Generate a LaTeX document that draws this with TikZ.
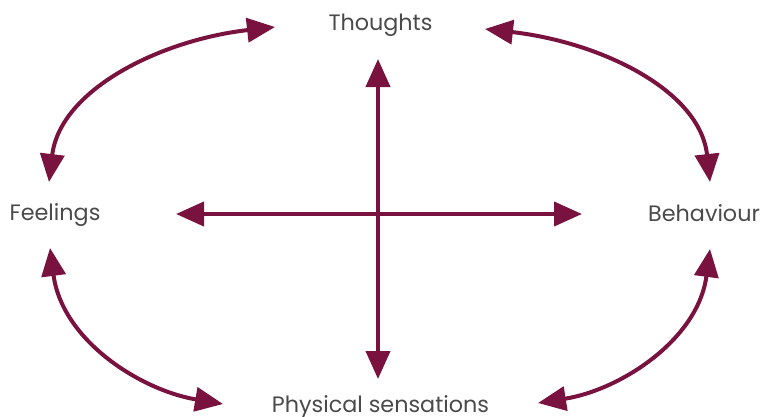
\documentclass[tikz,border=0pt]{standalone}
\usepackage{fontspec}
\setmainfont{Poppins}
\usepackage{tikz}
\usetikzlibrary{arrows.meta,calc}
\definecolor{plum}{HTML}{7A1240}
\definecolor{inkgrey}{HTML}{4A4A4A}

\begin{document}
\begin{tikzpicture}[x=1pt,y=1pt,label/.style={text=inkgrey,font=\fontsize{22.3}{26}\selectfont,inner sep=0pt,anchor=base},link/.style={{Triangle[length=28pt,width=24pt]}-{Triangle[length=28pt,width=24pt]},line width=4pt,draw=plum}]
\useasboundingbox (0,0) rectangle (762,416);
\node[label] (thoughts) at (380.5,385.5) {Thoughts};
\node[label] (feelings) at (55,195.5) {Feelings};
\node[label] (behaviour) at (704,195) {Behaviour};
\node[label] (physical) at (380.5,3.5) {Physical sensations};
% cross
\draw[link] ($(thoughts.base)+(-2.5,-28.5)$)--($(physical.base)+(-2.5,33.5)$);
\draw[link] ($(feelings.base)+(121,6.5)$)--($(behaviour.base)+(-122,7)$);
% curved links round the outside
\draw[link] ($(thoughts.base)+(-105.5,3.5)$) .. controls +(-115,-13) and +(11,92) .. ($(feelings.base)+(-6,38.5)$);
\draw[link] ($(thoughts.base)+(104.5,1.5)$) .. controls +(115,-13) and +(-10,92) .. ($(behaviour.base)+(6,39)$);
\draw[link] ($(feelings.base)+(-5,-27.5)$) .. controls +(12,-92) and +(-83,14) .. ($(physical.base)+(-157.5,8.5)$);
\draw[link] ($(behaviour.base)+(6,-28)$) .. controls +(-12,-91) and +(82,13) .. ($(physical.base)+(157.5,9.5)$);
\end{tikzpicture}
\end{document}
